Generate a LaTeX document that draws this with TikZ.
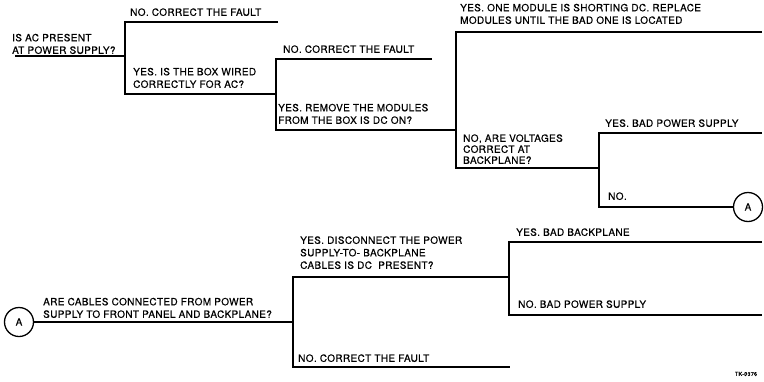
\documentclass[tikz,border=0pt]{standalone}
\usepackage{fontspec}
\setmainfont{TeX Gyre Heros}[LetterSpace=3.5, FakeBold=0.4]
\usetikzlibrary{positioning}

\tikzset{
  branch/.style={line width=1.3pt},
  qtext/.style={anchor=south west, inner sep=0pt, text depth=0pt, align=left,
                font=\fontsize{10}{12.5}\selectfont},
  conn/.style={draw, circle, line width=1.3pt, minimum size=29pt, inner sep=0pt,
               font=\fontsize{10}{12}\selectfont},
}

\begin{document}
\begin{tikzpicture}[x=1pt, y=-1pt]
  \useasboundingbox[fill=white] (0,0) rectangle (764,381);

  % Upper tree: AC present?
  \coordinate (start1) at (15,56);
  \coordinate (q1) at (125,56);
  \coordinate (q2) at (276,94);
  \coordinate (q3) at (456,130);
  \coordinate (q4) at (599,168);
  \coordinate (no1) at (278,22);
  \coordinate (no2) at (432,59);
  \coordinate (yes3) at (762,32);
  \coordinate (yes4) at (762,133);
  \node[conn] (goA) at (748,207) {A};

  \draw[branch] (start1) -- (q1);
  \draw[branch] (no1) -| (q1) |- (q2);
  \draw[branch] (no2) -| (q2) |- (q3);
  \draw[branch] (yes3) -| (q3) |- (q4);
  \draw[branch] (yes4) -| (q4) |- (goA);

  \node[qtext] (tq1) at (12,54) {IS AC PRESENT\\AT POWER SUPPLY?};
  \node[qtext] (tno1) at (130,16) {NO. CORRECT THE FAULT};
  \node[qtext] (tq2) at (133,88) {YES. IS THE BOX WIRED\\CORRECTLY FOR AC?};
  \node[qtext] (tno2) at (283,53) {NO. CORRECT THE FAULT};
  \node[qtext] (tq3) at (278,124) {YES. REMOVE THE MODULES\\FROM THE BOX IS DC ON?};
  \node[qtext] (tyes3) at (460,24) {YES. ONE MODULE IS SHORTING DC. REPLACE\\MODULES UNTIL THE BAD ONE IS LOCATED};
  \node[qtext, font=\fontsize{10}{11}\selectfont] (tq4) at (463,164) {NO, ARE VOLTAGES\\CORRECT AT\\BACKPLANE?};
  \node[qtext] (tyes4) at (605,127) {YES. BAD POWER SUPPLY};
  \node[qtext] (tno4) at (608,200) {NO.};

  % Lower tree: cables connected?
  \node[conn] (fromA) at (19,322) {A};
  \coordinate (q5) at (293,322);
  \coordinate (q6) at (509,277);
  \coordinate (no5) at (510,367);
  \coordinate (yes6) at (762,242);
  \coordinate (no6) at (762,315);

  \draw[branch] (fromA) -- (q5);
  \draw[branch] (q6) -| (q5) |- (no5);
  \draw[branch] (yes6) -| (q6) |- (no6);

  \node[qtext] (tq5) at (43,318) {ARE CABLES CONNECTED FROM POWER\\SUPPLY TO FRONT PANEL AND BACKPLANE?};
  \node[qtext] (tq6) at (300,269) {YES. DISCONNECT THE POWER\\SUPPLY-TO- BACKPLANE\\CABLES IS DC\ \ PRESENT?};
  \node[qtext] (tno5) at (298,362) {NO. CORRECT THE FAULT};
  \node[qtext] (tyes6) at (516,236) {YES. BAD BACKPLANE};
  \node[qtext] (tno6) at (518,308) {NO. BAD POWER SUPPLY};

  \node[font=\fontsize{5.5}{6}\selectfont, inner sep=0pt] (figno) at (746,374) {TK-0376};
\end{tikzpicture}
\end{document}
